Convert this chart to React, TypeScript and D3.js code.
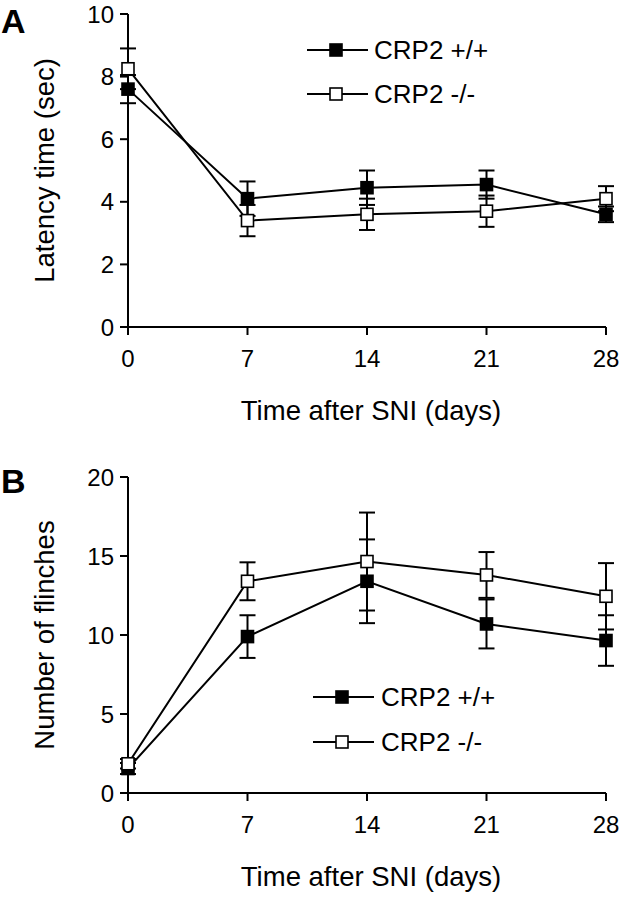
import React from "react";
import * as d3 from "d3";

const days = [0, 7, 14, 21, 28];
const dayTicks = ["0", "7", "14", "21", "28"];

const latencyWT = [7.6, 4.1, 4.45, 4.55, 3.6];
const latencyWTErr = [0.45, 0.55, 0.55, 0.45, 0.25];
const latencyKO = [8.25, 3.4, 3.6, 3.7, 4.1];
const latencyKOErr = [0.65, 0.5, 0.5, 0.5, 0.4];
const latencyTicks = [0, 2, 4, 6, 8, 10];

const flinchWT = [1.55, 9.9, 13.4, 10.7, 9.65];
const flinchWTErr = [0.35, 1.35, 2.65, 1.55, 1.6];
const flinchKO = [1.85, 13.4, 14.65, 13.8, 12.45];
const flinchKOErr = [0.3, 1.2, 3.1, 1.45, 2.1];
const flinchTicks = [0, 5, 10, 15, 20];

const seriesLabels = ["CRP2 +/+", "CRP2 -/-"];

const FONT = "'Liberation Sans', Arial, sans-serif";

type PanelProps = {
  letter: string;
  letterY: number;
  top: number;
  bottom: number;
  yMax: number;
  yTicks: number[];
  yTitle: string;
  wt: number[];
  wtErr: number[];
  ko: number[];
  koErr: number[];
  legendX: number;
  legendY: number;
  legendGap: number;
  legendTextX: number;
};

function Panel(p: PanelProps) {
  const left = 128;
  const right = 606;
  const x = d3.scaleLinear().domain([0, 28]).range([left, right]);
  const y = d3.scaleLinear().domain([0, p.yMax]).range([p.bottom, p.top]);
  const line = d3
    .line<number>()
    .x((_, i) => x(days[i]))
    .y((v) => y(v));
  const sq = 12;
  const cap = 8;

  const errBars = (vals: number[], errs: number[]) =>
    vals.map((v, i) => (
      <g key={i} stroke="#000" strokeWidth={2}>
        <line x1={x(days[i])} x2={x(days[i])} y1={y(v - errs[i])} y2={y(v + errs[i])} />
        <line x1={x(days[i]) - cap} x2={x(days[i]) + cap} y1={y(v + errs[i])} y2={y(v + errs[i])} />
        <line x1={x(days[i]) - cap} x2={x(days[i]) + cap} y1={y(v - errs[i])} y2={y(v - errs[i])} />
      </g>
    ));

  const markers = (vals: number[], filled: boolean) =>
    vals.map((v, i) => (
      <rect
        key={i}
        x={x(days[i]) - sq / 2}
        y={y(v) - sq / 2}
        width={sq}
        height={sq}
        fill={filled ? "#000" : "#fff"}
        stroke="#000"
        strokeWidth={1.6}
      />
    ));

  const midY = (p.top + p.bottom) / 2;

  return (
    <g fontFamily={FONT} fill="#000">
      <text x={1} y={p.letterY} fontSize={34} fontWeight="bold">
        {p.letter}
      </text>
      {/* axes */}
      <line x1={left} x2={left} y1={p.top} y2={p.bottom} stroke="#000" strokeWidth={2} />
      <line x1={left} x2={right} y1={p.bottom} y2={p.bottom} stroke="#000" strokeWidth={2} />
      {p.yTicks.map((t) => (
        <g key={t}>
          <line x1={left - 8} x2={left} y1={y(t)} y2={y(t)} stroke="#000" strokeWidth={2} />
          <text x={left - 14} y={y(t)} dy="0.36em" textAnchor="end" fontSize={24}>
            {t}
          </text>
        </g>
      ))}
      {days.map((d, i) => (
        <g key={d}>
          <line x1={x(d)} x2={x(d)} y1={p.bottom} y2={p.bottom + 8} stroke="#000" strokeWidth={2} />
          <text x={x(d)} y={p.bottom + 40} textAnchor="middle" fontSize={24}>
            {dayTicks[i]}
          </text>
        </g>
      ))}
      <text x={371} y={p.bottom + 93} textAnchor="middle" fontSize={27.5}>
        Time after SNI (days)
      </text>
      <text
        transform={`translate(54,${midY}) rotate(-90)`}
        textAnchor="middle"
        fontSize={27.5}
      >
        {p.yTitle}
      </text>
      {/* data */}
      {errBars(p.wt, p.wtErr)}
      {errBars(p.ko, p.koErr)}
      <path d={line(p.wt) || ""} fill="none" stroke="#000" strokeWidth={2} />
      <path d={line(p.ko) || ""} fill="none" stroke="#000" strokeWidth={2} />
      {markers(p.wt, true)}
      {markers(p.ko, false)}
      {/* legend */}
      {seriesLabels.map((lab, i) => {
        const ly = p.legendY + i * p.legendGap;
        return (
          <g key={lab}>
            <line x1={p.legendX} x2={p.legendX + 61} y1={ly} y2={ly} stroke="#000" strokeWidth={2} />
            <rect
              x={p.legendX + 29 - sq / 2}
              y={ly - sq / 2}
              width={sq}
              height={sq}
              fill={i === 0 ? "#000" : "#fff"}
              stroke="#000"
              strokeWidth={1.6}
            />
            <text x={p.legendTextX} y={ly} dy="0.36em" fontSize={26}>
              {lab}
            </text>
          </g>
        );
      })}
    </g>
  );
}

export default function App() {
  return (
    <svg
      width={620}
      height={899}
      style={{ position: "absolute", left: 0, top: 0, background: "#fff" }}
    >
      <rect width={620} height={899} fill="#fff" />
      <Panel
        letter="A"
        letterY={33}
        top={14}
        bottom={327}
        yMax={10}
        yTicks={latencyTicks}
        yTitle="Latency time (sec)"
        wt={latencyWT}
        wtErr={latencyWTErr}
        ko={latencyKO}
        koErr={latencyKOErr}
        legendX={307}
        legendY={50}
        legendGap={44}
        legendTextX={374}
      />
      <Panel
        letter="B"
        letterY={493}
        top={477}
        bottom={793}
        yMax={20}
        yTicks={flinchTicks}
        yTitle="Number of flinches"
        wt={flinchWT}
        wtErr={flinchWTErr}
        ko={flinchKO}
        koErr={flinchKOErr}
        legendX={313}
        legendY={697}
        legendGap={45}
        legendTextX={381}
      />
    </svg>
  );
}
